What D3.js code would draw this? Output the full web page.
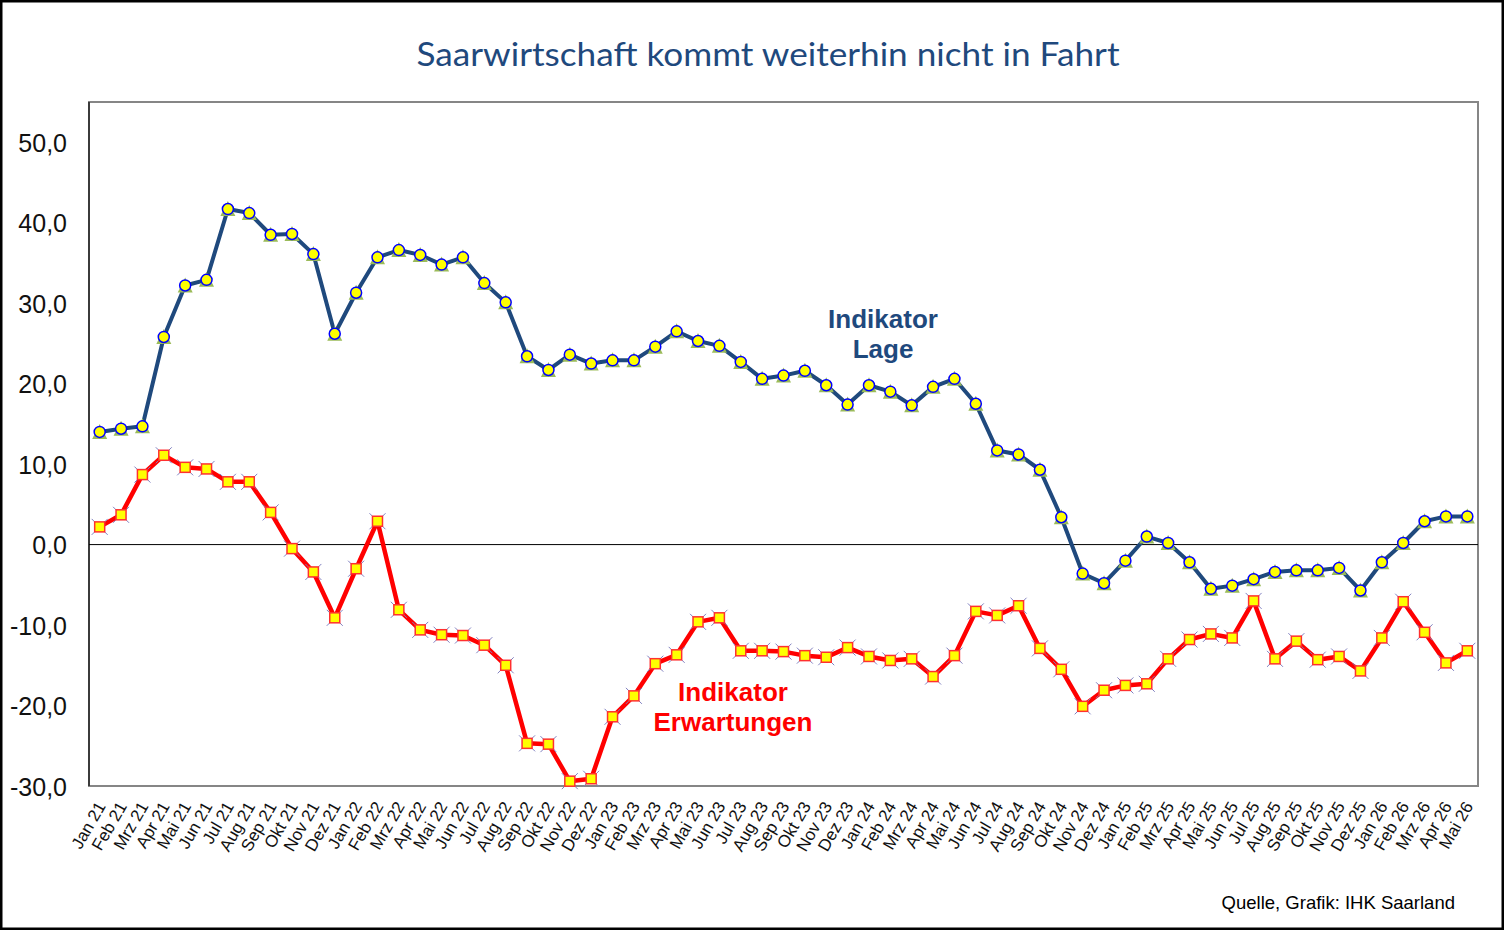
<!DOCTYPE html>
<html>
<head>
<meta charset="utf-8">
<script src="https://cdn.jsdelivr.net/npm/d3@7"></script>
<style>
  body { margin: 0; background: #fff; }
  .wrapper { width: 1504px; height: 930px; }
</style>
</head>
<body>
<div class="wrapper"></div>
<script>
months = ["Jan 21","Feb 21","Mrz 21","Apr 21","Mai 21","Jun 21","Jul 21","Aug 21","Sep 21","Okt 21","Nov 21","Dez 21",
          "Jan 22","Feb 22","Mrz 22","Apr 22","Mai 22","Jun 22","Jul 22","Aug 22","Sep 22","Okt 22","Nov 22","Dez 22",
          "Jan 23","Feb 23","Mrz 23","Apr 23","Mai 23","Jun 23","Jul 23","Aug 23","Sep 23","Okt 23","Nov 23","Dez 23",
          "Jan 24","Feb 24","Mrz 24","Apr 24","Mai 24","Jun 24","Jul 24","Aug 24","Sep 24","Okt 24","Nov 24","Dez 24",
          "Jan 25","Feb 25","Mrz 25","Apr 25","Mai 25","Jun 25","Jul 25","Aug 25","Sep 25","Okt 25","Nov 25","Dez 25",
          "Jan 26","Feb 26","Mrz 26","Apr 26","Mai 26"];

lage = [14.0, 14.4, 14.7, 25.8, 32.2, 32.9, 41.7, 41.2, 38.5, 38.6, 36.1, 26.2,
        31.3, 35.7, 36.6, 36.0, 34.8, 35.7, 32.5, 30.1, 23.4, 21.7, 23.6, 22.5,
        22.9, 22.9, 24.6, 26.5, 25.3, 24.7, 22.7, 20.6, 21.0, 21.6, 19.8, 17.4,
        19.8, 19.0, 17.3, 19.6, 20.6, 17.5, 11.7, 11.2, 9.3, 3.4, -3.6, -4.8,
        -2.0, 1.0, 0.2, -2.2, -5.5, -5.1, -4.3, -3.4, -3.2, -3.2, -2.9, -5.7,
        -2.2, 0.2, 2.9, 3.5, 3.5];

erwartungen = [2.2, 3.7, 8.7, 11.1, 9.6, 9.4, 7.8, 7.8, 4.0, -0.5, -3.4, -9.1,
               -3.0, 2.9, -8.1, -10.6, -11.2, -11.3, -12.5, -15.0, -24.7, -24.8, -29.4, -29.1,
               -21.4, -18.8, -14.8, -13.7, -9.6, -9.1, -13.2, -13.2, -13.3, -13.8, -14.0, -12.8,
               -13.9, -14.4, -14.2, -16.4, -13.8, -8.3, -8.8, -7.6, -12.9, -15.5, -20.1, -18.1,
               -17.5, -17.3, -14.2, -11.8, -11.1, -11.6, -7.0, -14.2, -12.0, -14.3, -13.9, -15.7,
               -11.6, -7.1, -10.9, -14.7, -13.2];

y_ticks = [-30, -20, -10, 0, 10, 20, 30, 40, 50];

title_text  = "Saarwirtschaft kommt weiterhin nicht in Fahrt";
source_text = "Quelle, Grafik: IHK Saarland";

var W = 1504, H = 930,
    plot = {left: 89, right: 1478, top: 102, bottom: 786};

var svg = d3.select(".wrapper").append("svg")
  .attr("width", W)
  .attr("height", H);

// outer frame
svg.append("rect")
  .attr("x", 1).attr("y", 1)
  .attr("width", W - 2).attr("height", H - 2)
  .attr("fill", "#fff")
  .attr("stroke", "#000")
  .attr("stroke-width", 3);

svg.append("text")
  .attr("x", 768).attr("y", 66)
  .attr("text-anchor", "middle")
  .attr("textLength", 703)
  .attr("lengthAdjust", "spacingAndGlyphs")
  .style("font-family", "Lato, 'Open Sans', sans-serif")
  .style("font-size", "33px")
  .attr("fill", "#1f497d")
  .text(title_text);

var xScale = d3.scalePoint()
  .domain(months)
  .range([plot.left, plot.right])
  .padding(0.5);

var yScale = d3.scaleLinear()
  .domain([-30, 55])
  .range([plot.bottom, plot.top]);

// plot area
svg.append("rect")
  .attr("x", plot.left).attr("y", plot.top)
  .attr("width", plot.right - plot.left)
  .attr("height", plot.bottom - plot.top)
  .attr("fill", "#fff")
  .attr("stroke", "#868686")
  .attr("stroke-width", 2);

svg.append("line")
  .attr("x1", plot.left).attr("x2", plot.left)
  .attr("y1", plot.top).attr("y2", plot.bottom)
  .attr("stroke", "#222")
  .attr("stroke-width", 1.5);

svg.append("line")
  .attr("x1", plot.left).attr("x2", plot.right)
  .attr("y1", yScale(0)).attr("y2", yScale(0))
  .attr("stroke", "#000")
  .attr("stroke-width", 1);

// y axis labels
var yAxis = d3.axisLeft(yScale)
  .tickValues(y_ticks)
  .tickSize(0)
  .tickPadding(22)
  .tickFormat(function(d) { return d3.format(".1f")(d).replace(".", ",").replace("−", "-"); });

var g_yAxis = svg.append("g")
  .attr("transform", "translate(" + plot.left + ",0)")
  .call(yAxis);
g_yAxis.select(".domain").remove();
g_yAxis.selectAll("text")
  .style("font-family", "'Liberation Sans', Arial, sans-serif")
  .style("font-size", "25px")
  .attr("fill", "#111")
  .attr("dy", "0.36em");

// x axis labels
var xAxis = d3.axisBottom(xScale).tickSize(0).tickPadding(0);
var g_xAxis = svg.append("g")
  .attr("transform", "translate(0," + plot.bottom + ")")
  .call(xAxis);
g_xAxis.select(".domain").remove();
g_xAxis.selectAll("text")
  .style("font-family", "'Liberation Sans', Arial, sans-serif")
  .style("font-size", "17px")
  .attr("fill", "#111")
  .attr("text-anchor", "end")
  .attr("dy", null)
  .attr("y", 0)
  .attr("transform", "translate(6,20) rotate(-60)");

var line = d3.line()
  .x(function(d, i) { return xScale(months[i]); })
  .y(function(d) { return yScale(d); });

// Erwartungen
svg.append("path")
  .datum(erwartungen)
  .attr("d", line)
  .attr("fill", "none")
  .attr("stroke", "#ff0000")
  .attr("stroke-width", 4.5)
  .attr("stroke-linejoin", "round");

var g_erw = svg.selectAll(".erw")
  .data(erwartungen)
  .enter().append("g")
  .attr("class", "erw")
  .attr("transform", function(d, i) { return "translate(" + xScale(months[i]) + "," + yScale(d) + ")"; });

g_erw.append("path")
  .attr("d", "M-8,-8L8,8M-8,8L8,-8")
  .attr("stroke", "#8080c0")
  .attr("stroke-width", 1);

g_erw.append("rect")
  .attr("x", -5).attr("y", -5)
  .attr("width", 10).attr("height", 10)
  .attr("fill", "#ffff00")
  .attr("stroke", "#ff3030")
  .attr("stroke-width", 1.5);

// Lage
svg.append("path")
  .datum(lage)
  .attr("d", line)
  .attr("fill", "none")
  .attr("stroke", "#1f497d")
  .attr("stroke-width", 4)
  .attr("stroke-linejoin", "round");

var g_lage = svg.selectAll(".lage")
  .data(lage)
  .enter().append("g")
  .attr("class", "lage")
  .attr("transform", function(d, i) { return "translate(" + xScale(months[i]) + "," + yScale(d) + ")"; });

g_lage.append("path")
  .attr("d", "M0,-8L7.5,7L-7.5,7Z")
  .attr("fill", "#9bbb59");

g_lage.append("circle")
  .attr("r", 5.5)
  .attr("fill", "#ffff00")
  .attr("stroke", "#0000ff")
  .attr("stroke-width", 1.5);

// annotations
function addLabel(lines, x, y, color) {
  var t = svg.append("text")
    .attr("x", x).attr("y", y)
    .attr("text-anchor", "middle")
    .style("font-family", "'Liberation Sans', Arial, sans-serif")
    .style("font-size", "26px")
    .style("font-weight", "bold")
    .attr("fill", color);
  lines.forEach(function(s, i) {
    t.append("tspan").attr("x", x).attr("dy", i ? 30 : 0).text(s);
  });
}
addLabel(["Indikator", "Lage"], 883, 328, "#1f497d");
addLabel(["Indikator", "Erwartungen"], 733, 701, "#ff0000");

svg.append("text")
  .attr("x", 1455).attr("y", 909)
  .attr("text-anchor", "end")
  .style("font-family", "'Liberation Sans', Arial, sans-serif")
  .style("font-size", "18.5px")
  .attr("fill", "#000")
  .text(source_text);
</script>
</body>
</html>
